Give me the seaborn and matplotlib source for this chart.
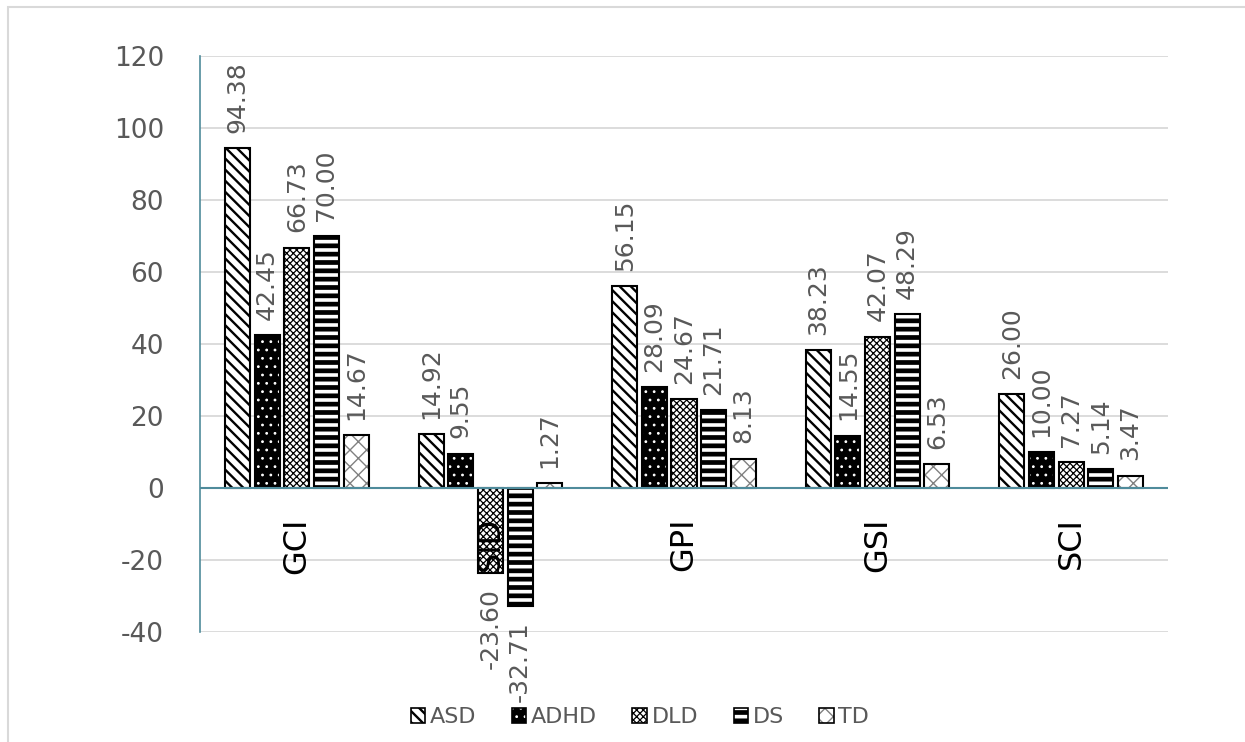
import matplotlib
matplotlib.use('Agg')
import matplotlib as mpl
import matplotlib.pyplot as plt
import seaborn as sns
import pandas as pd
from matplotlib.patches import Rectangle

categories = ['GCI', 'SID', 'GPI', 'GSI', 'SCI']
groups = ['ASD', 'ADHD', 'DLD', 'DS', 'TD']
asd = [94.38, 14.92, 56.15, 38.23, 26.00]
adhd = [42.45, 9.55, 28.09, 14.55, 10.00]
dld = [66.73, -23.60, 24.67, 42.07, 7.27]
ds = [70.00, -32.71, 21.71, 48.29, 5.14]
td = [14.67, 1.27, 8.13, 6.53, 3.47]
y_ticks = [-40, -20, 0, 20, 40, 60, 80, 100, 120]

series = {'ASD': asd, 'ADHD': adhd, 'DLD': dld, 'DS': ds, 'TD': td}
df = pd.DataFrame([{'category': c, 'group': g, 'value': v}
                   for g in groups for c, v in zip(categories, series[g])])

sns.set_theme(style='white')
plt.rcParams['font.family'] = ['DejaVu Sans']
plt.rcParams['axes.unicode_minus'] = False
plt.rcParams['hatch.linewidth'] = 1.0

W, H = 1245, 742
fig = plt.figure(figsize=(W / 100, H / 100), dpi=100)
ax = fig.add_axes([200 / W, 1 - 632 / H, 968 / W, 576 / H])

styles = {
    'ASD': dict(face='white', hcol='black', hatch='\\\\\\', hlw=1.7),
    'ADHD': dict(face='black', hcol='white', hatch='..', hlw=0.8),
    'DLD': dict(face='white', hcol='black', hatch='xxxxx', hlw=0.9),
    'DS': dict(face='white', hcol='black', hatch='--', hlw=3.4),
    'TD': dict(face='white', hcol='#808080', hatch='xx', hlw=1.0),
}
palette = {g: styles[g]['face'] for g in groups}


def with_hatch_lw(artist, lw):
    orig = artist.draw

    def draw(renderer, _orig=orig, _lw=lw):
        with mpl.rc_context({'hatch.linewidth': _lw}):
            _orig(renderer)
    artist.draw = draw
    if hasattr(artist, 'set_hatch_linewidth'):
        artist.set_hatch_linewidth(lw)


sns.barplot(data=df, x='category', y='value', hue='group', order=categories,
            hue_order=groups, palette=palette, width=0.765, gap=0.155,
            errorbar=None, saturation=1, legend=False, ax=ax)

handles = []
for g, cont in zip(groups, ax.containers):
    st = styles[g]
    for p in cont.patches:
        p.set_facecolor(st['face'])
        p.set_edgecolor(st['hcol'])
        p.set_hatch(st['hatch'])
        p.set_linewidth(0)
        with_hatch_lw(p, st['hlw'])
        p.set_zorder(2)
        ax.add_patch(Rectangle(p.get_xy(), p.get_width(), p.get_height(),
                               fill=False, edgecolor='black', lw=1.5, zorder=3))
        v = p.get_height()
        xc = p.get_x() + p.get_width() / 2
        ax.annotate(f'{v:.2f}', xy=(xc, v), xytext=(0, 11 if v >= 0 else -11),
                    textcoords='offset points', rotation=90, ha='center',
                    va='bottom' if v >= 0 else 'top', fontsize=18,
                    color='#595959', zorder=6)
    h = Rectangle((0, 0), 1, 1, facecolor=st['face'], edgecolor=st['hcol'],
                  hatch=st['hatch'], lw=0)
    handles.append(h)

ax.set_ylim(-40, 120)
ax.set_yticks(y_ticks)
ax.set_xlim(-0.5, len(categories) - 0.5)
ax.set_xticks([])
ax.set_xlabel('')
ax.set_ylabel('')
ax.yaxis.grid(True, color='#d9d9d9', lw=1.3)
ax.set_axisbelow(True)
for s in ['top', 'right', 'bottom']:
    ax.spines[s].set_visible(False)
ax.spines['left'].set_color('#4f8b9b')
ax.spines['left'].set_linewidth(1.2)
ax.axhline(0, color='#4f8b9b', lw=1.5, zorder=4)
ax.tick_params(axis='y', length=0, labelsize=19, labelcolor='#595959', pad=26)

for i, c in enumerate(categories):
    ax.annotate(c, xy=(i, 0), xytext=(0, -21), textcoords='offset points',
                rotation=90, ha='center', va='top', fontsize=23,
                color='black', zorder=7)

leg = fig.legend(handles, groups, loc='center', bbox_to_anchor=(640 / W, 1 - 717 / H),
                 ncol=5, frameon=False, fontsize=16, handlelength=0.65,
                 handleheight=0.65, handletextpad=0.2, columnspacing=1.6,
                 labelcolor='#595959')
for lh, g in zip(leg.legend_handles, groups):
    lh.set_facecolor(styles[g]['face'])
    lh.set_edgecolor(styles[g]['hcol'])
    lh.set_hatch(styles[g]['hatch'])
    with_hatch_lw(lh, styles[g]['hlw'])
    lh.set_linewidth(0)

fig.canvas.draw()
renderer = fig.canvas.get_renderer()
inv = fig.transFigure.inverted()
for lh in leg.legend_handles:
    bb = lh.get_window_extent(renderer)
    (x0, y0), (x1, y1) = inv.transform([[bb.x0, bb.y0], [bb.x1, bb.y1]])
    fig.add_artist(Rectangle((x0, y0), x1 - x0, y1 - y0, transform=fig.transFigure,
                             fill=False, edgecolor='black', lw=1.2, zorder=10))

fig.add_artist(Rectangle((8 / W, -0.1), 2, 1 - 7 / H + 0.1, transform=fig.transFigure,
                         fill=False, edgecolor='#d9d9d9', lw=1.5))

fig.savefig('out.png', dpi=100)
